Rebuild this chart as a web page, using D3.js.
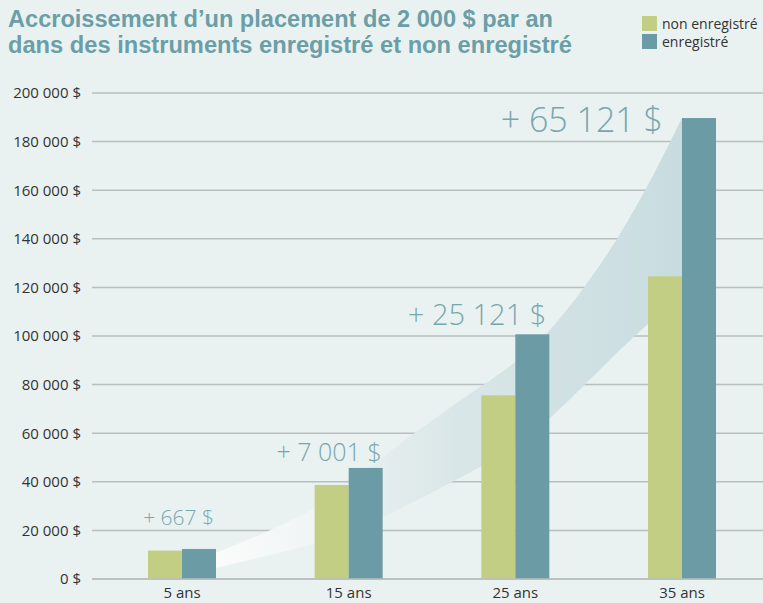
<!DOCTYPE html>
<html lang="fr">
<head>
<meta charset="utf-8">
<script src="https://cdn.jsdelivr.net/npm/d3@7"></script>
<style>
  html, body { margin: 0; padding: 0; background: #eaf2f1; }
  svg { display: block; }
</style>
</head>
<body>
<div id="chart"></div>
<script>
// ---- data ----
const categories = ["5 ans", "15 ans", "25 ans", "35 ans"];
const seriesNames = ["non enregistré", "enregistré"];
const nonEnregistre = [11700, 38699, 75579, 124579];
const enregistre = [12367, 45700, 100700, 189700];
const gainLabels = ["+ 667 $", "+ 7 001 $", "+ 25 121 $", "+ 65 121 $"];
const yTicks = [0, 20000, 40000, 60000, 80000, 100000, 120000, 140000, 160000, 180000, 200000];
const titleLines = ["Accroissement d’un placement de 2 000 $ par an",
                    "dans des instruments enregistré et non enregistré"];
// decorative swoosh band (index along categories, value)
const swooshUpper = [[0, 7000], [0.2, 10700], [0.81, 29630], [1.206, 50200], [1.788, 79010],
                     [2.19, 101230], [2.628, 142000], [3.0, 189700]];
const swooshLower = [[0, 1500], [0.2, 4530], [0.81, 14810], [1.206, 25510], [1.788, 46090],
                     [2.208, 66250], [2.646, 95470], [3.0, 117000]];

// ---- setup ----
const W = 763, H = 603;
const colors = ["#c3ce85", "#6b9ca5"];
const svg = d3.select("#chart").append("svg").attr("width", W).attr("height", H);
svg.append("rect").attr("width", W).attr("height", H).attr("fill", "#eaf2f1");

const y = d3.scaleLinear().domain([0, 200000]).range([579, 93]);
const x = d3.scalePoint().domain(categories).range([182, 682]);
const xi = d3.scaleLinear().domain([0, categories.length - 1])
  .range([x(categories[0]), x(categories[categories.length - 1])]);
const barW = 34;

// gridlines + y axis labels
const yAxis = d3.axisLeft(y).tickValues(yTicks).tickSize(0).tickPadding(11)
  .tickFormat(d => d3.format(",")(d).replace(/,/g, "\u00a0") + "\u00a0$");
const gy = svg.append("g").attr("transform", "translate(92,0)").call(yAxis);
gy.select(".domain").remove();
gy.selectAll("text").attr("font-family", "'Open Sans', sans-serif").attr("font-size", 15).attr("fill", "#333");
svg.append("g").selectAll("line").data(yTicks).join("line")
  .attr("x1", 92).attr("x2", W).attr("y1", d => y(d)).attr("y2", d => y(d))
  .attr("stroke", "#b9bebe").attr("stroke-width", 1.5);

// swoosh
const defs = svg.append("defs");
const grad = defs.append("linearGradient").attr("id", "sw").attr("gradientUnits", "userSpaceOnUse")
  .attr("x1", xi(0)).attr("y1", 0).attr("x2", xi(3)).attr("y2", 0);
grad.append("stop").attr("offset", 0).attr("stop-color", "#ffffff").attr("stop-opacity", 0.95);
grad.append("stop").attr("offset", 0.25).attr("stop-color", "#f1f5f5").attr("stop-opacity", 1);
grad.append("stop").attr("offset", 0.55).attr("stop-color", "#d9e6e7").attr("stop-opacity", 1);
grad.append("stop").attr("offset", 1).attr("stop-color", "#c8dcdf").attr("stop-opacity", 1);

const curveLine = d3.line().x(d => xi(d[0])).y(d => y(d[1])).curve(d3.curveNatural);
const upperPath = curveLine(swooshUpper);
const lowerRevPath = curveLine(swooshLower.slice().reverse()).replace(/^M/, "L");
svg.append("path").attr("d", upperPath + lowerRevPath + "Z").attr("fill", "url(#sw)");

// bars
const series = [nonEnregistre, enregistre];
series.forEach((vals, s) => {
  svg.append("g").selectAll("rect").data(vals).join("rect")
    .attr("x", (d, i) => x(categories[i]) + (s === 0 ? -barW : 0))
    .attr("y", d => y(d))
    .attr("width", barW)
    .attr("height", d => y(0) - y(d))
    .attr("fill", colors[s]);
});
// baseline over bars
svg.append("line").attr("x1", 92).attr("x2", W).attr("y1", y(0)).attr("y2", y(0))
  .attr("stroke", "#b9bebe").attr("stroke-width", 1.5);

// x labels
svg.append("g").selectAll("text").data(categories).join("text")
  .attr("x", d => x(d)).attr("y", 598).attr("text-anchor", "middle")
  .attr("font-family", "'Open Sans', sans-serif").attr("font-size", 15).attr("fill", "#333")
  .text(d => d);

// gain annotations
const gainStyle = [
  { dx: -2, dy: 24, size: 21 },
  { dx: -1, dy: 7, size: 25 },
  { dx: -3, dy: 9, size: 29 },
  { dx: -53, dy: -13.5, size: 34 }
];
svg.append("g").selectAll("text").data(gainLabels).join("text")
  .attr("x", (d, i) => x(categories[i]) + barW + gainStyle[i].dx)
  .attr("y", (d, i) => y(enregistre[i]) - gainStyle[i].dy)
  .attr("text-anchor", "end")
  .attr("font-family", "'Open Sans', sans-serif").attr("font-weight", 300)
  .attr("font-size", (d, i) => gainStyle[i].size)
  .attr("fill", "#78a6ad")
  .text(d => d);

// title
const titleWidths = [545, 564];
svg.append("g").selectAll("text").data(titleLines).join("text")
  .attr("x", 8).attr("y", (d, i) => 26.5 + i * 26.5)
  .attr("font-family", "'Liberation Sans', Arial, sans-serif").attr("font-weight", 700)
  .attr("font-size", 23.5).attr("fill", "#6b9ea6")
  .attr("textLength", (d, i) => titleWidths[i]).attr("lengthAdjust", "spacingAndGlyphs")
  .text(d => d);

// legend
const lg = svg.append("g");
seriesNames.forEach((name, i) => {
  lg.append("rect").attr("x", 642).attr("y", 16 + i * 18).attr("width", 15).attr("height", 15).attr("fill", colors[i]);
  lg.append("text").attr("x", 662).attr("y", 29 + i * 18)
    .attr("font-family", "'Open Sans', sans-serif").attr("font-size", 14).attr("fill", "#333")
    .text(name);
});
</script>
</body>
</html>
